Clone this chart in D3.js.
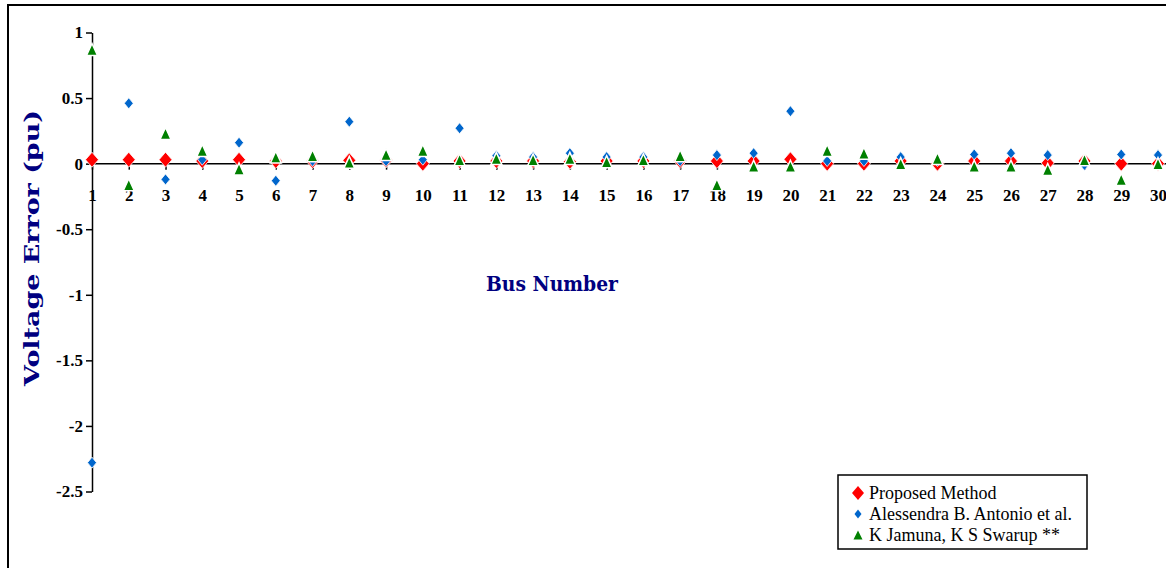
<!DOCTYPE html>
<meta charset="utf-8">
<head>
  <title>Voltage Error by Bus</title>
  <script src="https://d3js.org/d3.v7.min.js"></script>
  <style>
    body { margin: 0; background: #fff; }
    .axis text { font: bold 17px "Liberation Serif", serif; fill: #000; }
    .axis line, .axis path { stroke: #000; stroke-width: 1.5px; }
    .title { font: bold 20px "DejaVu Serif", serif; fill: #000080; }
    .legend text { font: 18px "Liberation Serif", serif; fill: #000; }
  </style>
</head>
<body>
<script>

var buses = [1, 2, 3, 4, 5, 6, 7, 8, 9, 10, 11, 12, 13, 14, 15,
             16, 17, 18, 19, 20, 21, 22, 23, 24, 25, 26, 27, 28, 29, 30];

var proposed = [0.03, 0.03, 0.03, 0.02, 0.03, 0.02, 0.02, 0.025, 0.025, 0.0,
                0.02, 0.02, 0.02, 0.015, 0.02, 0.02, 0.02, 0.02, 0.02, 0.033,
                0.0, 0.0, 0.02, 0.0, 0.02, 0.02, 0.005, 0.02, 0.0, 0.0];

var antonio = [-2.28, 0.46, -0.12, 0.03, 0.16, -0.13, 0.02, 0.32, 0.02, 0.03,
               0.27, 0.06, 0.05, 0.08, 0.05, 0.05, 0.02, 0.065, 0.08, 0.40,
               0.02, 0.02, 0.05, 0.02, 0.07, 0.08, 0.065, -0.01, 0.07, 0.065];

var jamuna = [0.87, -0.16, 0.23, 0.10, -0.04, 0.05, 0.06, 0.01, 0.07, 0.10,
              0.03, 0.04, 0.03, 0.04, 0.015, 0.03, 0.06, -0.16, -0.02, -0.02,
              0.10, 0.08, 0.0, 0.04, -0.02, -0.02, -0.045, 0.03, -0.12, 0.0];

var yTicks = [-2.5, -2, -1.5, -1, -0.5, 0, 0.5, 1];

var seriesNames = ["Proposed Method", "Alessendra B. Antonio et al.", "K Jamuna, K S Swarup **"];

var width = 1166, height = 568;

var svg = d3.select("body").append("svg")
    .attr("width", width)
    .attr("height", height);

// chart area border
svg.append("rect")
    .attr("x", 8).attr("y", 5)
    .attr("width", width + 10).attr("height", height + 10)
    .attr("fill", "none")
    .attr("stroke", "#000")
    .attr("stroke-width", 2);

var x = d3.scalePoint().domain(buses).range([92, 1158]);
var y = d3.scaleLinear().domain([-2.5, 1]).range([491.5, 32.5]);

// y axis
svg.append("g")
    .attr("class", "axis")
    .attr("transform", "translate(92,0)")
    .call(d3.axisLeft(y).tickValues(yTicks).tickSize(6).tickSizeOuter(0).tickPadding(3)
      .tickFormat(function(d) { return String(d); }));

// x axis at zero
var xg = svg.append("g")
    .attr("class", "axis")
    .attr("transform", "translate(0," + y(0) + ")")
    .call(d3.axisBottom(x).tickSize(6).tickSizeOuter(0).tickPadding(19));
xg.select(".domain").remove();
xg.append("line")
    .attr("x1", 92).attr("x2", width)
    .attr("y1", 0).attr("y2", 0);

function diamond(w, h) {
  return "M0," + (-h / 2) + "L" + (w / 2) + ",0L0," + (h / 2) + "L" + (-w / 2) + ",0Z";
}
function triangle(w, h) {
  return "M0," + (-h / 2) + "L" + (w / 2) + "," + (h / 2) + "L" + (-w / 2) + "," + (h / 2) + "Z";
}

var redShape = diamond(13, 15), blueShape = diamond(9, 11), greenShape = triangle(11, 12);

svg.append("g").selectAll("path")
    .data(proposed)
  .enter().append("path")
    .attr("d", redShape)
    .attr("fill", "#ff0000")
    .attr("stroke", "#fff").attr("stroke-width", 0.8)
    .attr("transform", function(d, i) { return "translate(" + x(buses[i]) + "," + y(d) + ")"; });

svg.append("g").selectAll("path")
    .data(antonio)
  .enter().append("path")
    .attr("d", blueShape)
    .attr("fill", "#0066cc")
    .attr("stroke", "#fff").attr("stroke-width", 0.8)
    .attr("transform", function(d, i) { return "translate(" + x(buses[i]) + "," + y(d) + ")"; });

svg.append("g").selectAll("path")
    .data(jamuna)
  .enter().append("path")
    .attr("d", greenShape)
    .attr("fill", "#008000")
    .attr("stroke", "#fff").attr("stroke-width", 1.5)
    .attr("transform", function(d, i) { return "translate(" + x(buses[i]) + "," + y(d) + ")"; });

// titles
svg.append("text")
    .attr("class", "title")
    .attr("transform", "translate(39,248) rotate(-90)")
    .attr("text-anchor", "middle")
    .attr("textLength", 276)
    .attr("lengthAdjust", "spacingAndGlyphs")
    .text("Voltage Error (pu)");

svg.append("text")
    .attr("class", "title")
    .attr("x", 552).attr("y", 291)
    .attr("text-anchor", "middle")
    .attr("textLength", 132)
    .attr("lengthAdjust", "spacingAndGlyphs")
    .text("Bus Number");

// legend
var legend = svg.append("g").attr("class", "legend");
legend.append("rect")
    .attr("x", 838).attr("y", 475)
    .attr("width", 249).attr("height", 74)
    .attr("fill", "#fff")
    .attr("stroke", "#000")
    .attr("stroke-width", 1.5);

var legShapes = [diamond(12, 14), diamond(7, 9), triangle(9, 9)];
var legColors = ["#ff0000", "#0066cc", "#008000"];

seriesNames.forEach(function(name, i) {
  var cy = 493 + i * 21;
  legend.append("path")
      .attr("d", legShapes[i])
      .attr("fill", legColors[i])
      .attr("transform", "translate(858," + cy + ")");
  legend.append("text")
      .attr("x", 869).attr("y", cy + 6)
      .text(name);
});

</script>
</body>
